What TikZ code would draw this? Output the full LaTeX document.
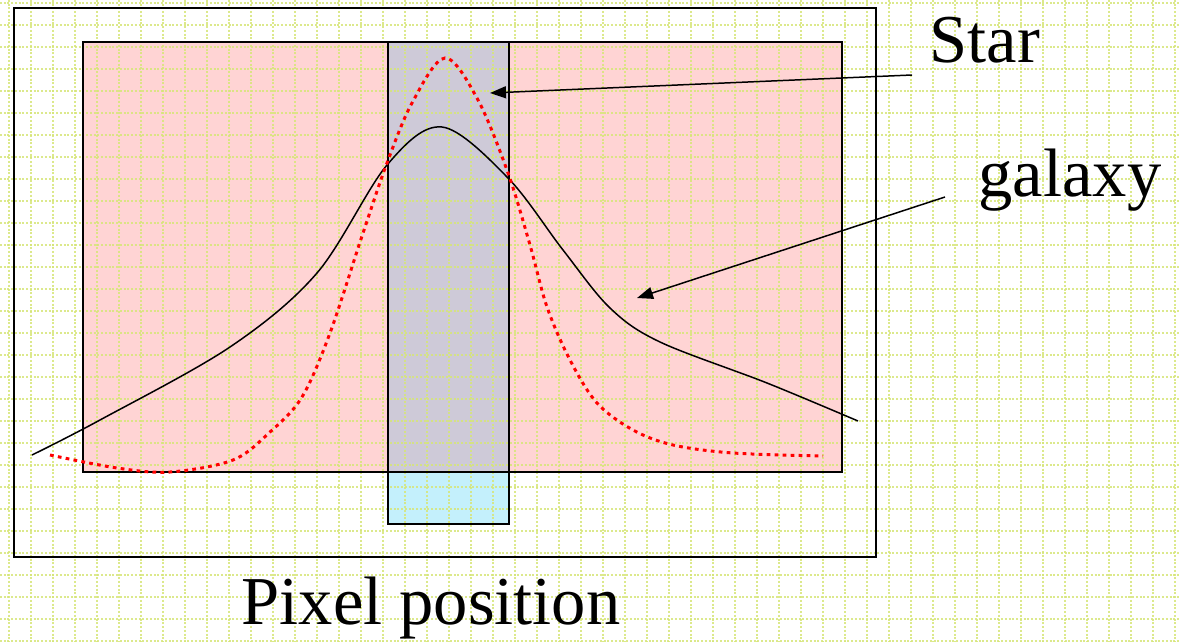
\documentclass[tikz,border=0pt]{standalone}
\usepackage{fontspec}
\setmainfont{Liberation Serif}
\usepackage{xcolor}
\usetikzlibrary{arrows.meta}
\definecolor{gridgreen}{RGB}{214,230,120}
\definecolor{galpink}{RGB}{255,212,212}
\definecolor{slitgray}{RGB}{206,202,216}
\definecolor{slitcyan}{RGB}{196,240,252}

\begin{document}
\begin{tikzpicture}[x=0.02cm, y=-0.02cm,
  frame/.style={draw=black, line width=1.1pt},
  gridline/.style={draw=gridgreen, line width=1.2pt, opacity=0.85,
                   dash pattern=on 0.04cm off 0.035cm},
  galcurve/.style={draw=black, line width=0.85pt},
  starcurve/.style={draw=red, line width=1.7pt, dash pattern=on 0.075cm off 0.085cm},
  lbl/.style={font=\fontsize{39}{47}\selectfont, inner sep=0pt},
  arr/.style={-{Triangle[length=0.32cm, width=0.24cm]}, line width=0.85pt}
]
\useasboundingbox (0,0) rectangle (1179,642);
\fill[white] (0,0) rectangle (1179,642);
% fills
\fill[galpink] (83,42) rectangle (842,472);
\fill[slitgray] (388,42) rectangle (509,472);
\fill[slitcyan] (388,472) rectangle (509,524);
% background grid
\foreach \gx in {9,31,...,1179}
  \draw[gridline] (\gx,0) -- (\gx,642);
\foreach \gy in {3,25,...,642}
  \draw[gridline] (0,\gy) -- (1179,\gy);
% boxes
\draw[frame] (14,8) rectangle (876,557);
\draw[frame] (83,42) rectangle (842,472);
\draw[frame] (388,42) rectangle (509,524);
% profiles
\draw[galcurve] plot[smooth, tension=0.55] coordinates {
  (32,455) (100,420) (230,347) (317,273) (387,165) (442,127) (508,178)
  (563,250) (610,308) (660,342) (767,383) (858,421)};
\draw[starcurve] plot[smooth, tension=0.55] coordinates {
  (50,455) (117,468) (170,472) (233,460) (270,432) (302,397) (330,333)
  (363,233) (387,163) (412,103) (445,58) (478,100) (508,173) (530,245)
  (547,307) (570,360) (597,403) (633,430) (673,445) (733,453) (823,456)};
% labels
\node[lbl] (star) at (985,40) {Star};
\node[lbl] (galaxy) at (1070,180) {galaxy};
\node[lbl] (xlab) at (431,608) {Pixel position};
\coordinate (starfrom) at (912,75);
\coordinate (starto) at (490,93);
\coordinate (galfrom) at (945,197);
\coordinate (galto) at (637,298);
\draw[arr] (starfrom) -- (starto);
\draw[arr] (galfrom) -- (galto);
\end{tikzpicture}
\end{document}
